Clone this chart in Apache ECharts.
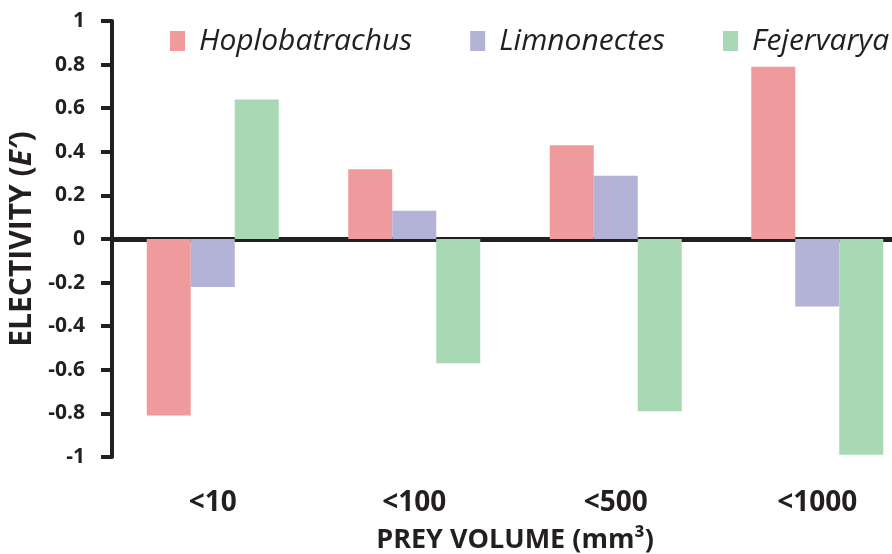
<!DOCTYPE html>
<html>
<head>
<meta charset="utf-8">
<script src="https://cdn.jsdelivr.net/npm/echarts@6/dist/echarts.min.js"></script>
<style>
html,body{margin:0;padding:0;background:#fff;}
#chart{width:892px;height:554px;}
</style>
</head>
<body>
<div id="chart"></div>
<script>
const categories = ['<10', '<100', '<500', '<1000'];
const seriesNames = ['Hoplobatrachus', 'Limnonectes', 'Fejervarya'];
const hoplobatrachus = [-0.81, 0.32, 0.43, 0.79];
const limnonectes = [-0.22, 0.13, 0.29, -0.31];
const fejervarya = [0.64, -0.57, -0.79, -0.99];
const colors = ['#ef9a9c', '#b3b2d7', '#a8d8b4'];

const ink = '#231f20';
const font = 'Open Sans';

const chart = echarts.init(document.getElementById('chart'), null, {renderer: 'canvas'});
const values = [hoplobatrachus, limnonectes, fejervarya];

chart.setOption({
  animation: false,
  backgroundColor: '#fff',
  textStyle: {fontFamily: font, color: ink},
  legend: {
    left: 165,
    top: 21,
    width: 800,
    orient: 'horizontal',
    itemWidth: 15,
    itemHeight: 20,
    itemGap: 58,
    icon: 'rect',
    data: seriesNames,
    textStyle: {fontFamily: font, fontSize: 30, fontStyle: 'italic', color: ink, padding: [0, 0, 0, 9]}
  },
  grid: {left: 112, right: -26, top: 21, bottom: 97, containLabel: false, outerBoundsMode: 'none'},
  xAxis: [
    {
      type: 'category',
      data: categories,
      axisLine: {onZero: true, lineStyle: {color: ink, width: 5}},
      axisTick: {show: false},
      axisLabel: {show: false},
      splitLine: {show: false}
    },
    {
      type: 'category',
      data: categories,
      position: 'bottom',
      axisLine: {show: false, onZero: false},
      axisTick: {show: false},
      axisLabel: {margin: 32, fontFamily: font, fontSize: 28, fontWeight: 'bold', color: ink},
      name: 'PREY VOLUME (mm³)',
      nameLocation: 'middle',
      nameGap: 70,
      nameTextStyle: {fontFamily: font, fontSize: 27, fontWeight: 'bold', color: ink}
    }
  ],
  yAxis: {
    type: 'value',
    min: -1,
    max: 1,
    interval: 0.2,
    axisLine: {show: true, onZero: false, lineStyle: {color: ink, width: 4}},
    axisTick: {show: true, length: 11, lineStyle: {color: ink, width: 4}},
    axisLabel: {margin: 27, fontFamily: font, fontSize: 21, fontWeight: 'bold', color: ink},
    splitLine: {show: false},
    name: 'ELECTIVITY ({i|E′})',
    nameLocation: 'middle',
    nameRotate: 90,
    nameGap: 56,
    nameTextStyle: {
      fontFamily: font, fontSize: 30, fontWeight: 'bold', color: ink,
      rich: {i: {fontFamily: font, fontSize: 30, fontWeight: 'bold', fontStyle: 'italic', color: ink}}
    }
  },
  series: seriesNames.map((name, i) => ({
    name: name,
    type: 'bar',
    xAxisIndex: 0,
    data: values[i],
    barWidth: 44,
    barGap: '0%',
    itemStyle: {color: colors[i]},
    z: 1
  }))
});
</script>
</body>
</html>
